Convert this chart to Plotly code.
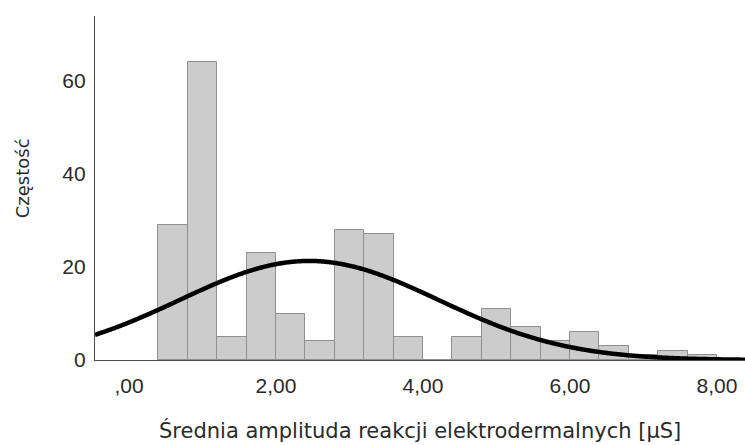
import numpy as np
import plotly.graph_objects as go

# Histogram of mean electrodermal response amplitude (bins 0.4 µS wide)
bin_start = 0.4
bin_width = 0.4
counts = [29, 64, 5, 23, 10, 4, 28, 27, 5, 0, 5, 11, 7, 4, 6, 3, 1, 2, 1]

# Fitted normal curve parameters
curve_mean = 2.45
curve_sd = 1.76

x_ticks = [0, 2, 4, 6, 8]
x_tick_labels = [",00", "2,00", "4,00", "6,00", "8,00"]
y_ticks = [0, 20, 40, 60]

x_range = [-0.463, 8.381]
y_range = [0, 74]

centers = [bin_start + bin_width * (i + 0.5) for i in range(len(counts))]
n_total = sum(counts)

xs = np.linspace(x_range[0], x_range[1], 400)
ys = n_total * bin_width / (curve_sd * np.sqrt(2 * np.pi)) * np.exp(-0.5 * ((xs - curve_mean) / curve_sd) ** 2)

title_font = "DejaVu Sans"
tick_font = "Liberation Sans"
text_color = "#2a2a2a"

fig = go.Figure()
fig.add_trace(go.Bar(
    x=centers, y=counts, width=bin_width,
    marker=dict(color="#cccccc", line=dict(color="#8f8f8f", width=1)),
    hoverinfo="x+y",
))
fig.add_trace(go.Scatter(
    x=xs, y=ys, mode="lines",
    line=dict(color="#000000", width=4.5, shape="spline"),
    hoverinfo="skip",
))

fig.update_layout(
    width=745, height=445,
    margin=dict(l=95, r=0, t=16, b=85),
    paper_bgcolor="white", plot_bgcolor="white",
    showlegend=False,
    bargap=0,
    font=dict(family=title_font, size=18, color=text_color),
    xaxis=dict(
        range=x_range, tickvals=x_ticks, ticktext=x_tick_labels,
        showgrid=False, zeroline=False, showline=True,
        linecolor="#505050", linewidth=1.2,
        ticks="", ticklabelstandoff=7,
        tickfont=dict(family=tick_font, size=21, color=text_color),
    ),
    yaxis=dict(
        range=y_range, tickvals=y_ticks,
        showgrid=False, zeroline=False, showline=True,
        linecolor="#505050", linewidth=1.2,
        ticks="", ticklabelstandoff=4,
        tickfont=dict(family=tick_font, size=21, color=text_color),
    ),
    annotations=[
        dict(text="Średnia amplituda reakcji elektrodermalnych [µS]",
             xref="paper", yref="paper", x=0.5, y=-0.206,
             xanchor="center", yanchor="middle", showarrow=False,
             font=dict(family=title_font, size=21, color=text_color)),
        dict(text="Częstość", textangle=-90,
             xref="paper", yref="paper", x=-0.112, y=0.529,
             xanchor="center", yanchor="middle", showarrow=False,
             font=dict(family=title_font, size=18, color=text_color)),
    ],
)

fig.write_html("out.html")
